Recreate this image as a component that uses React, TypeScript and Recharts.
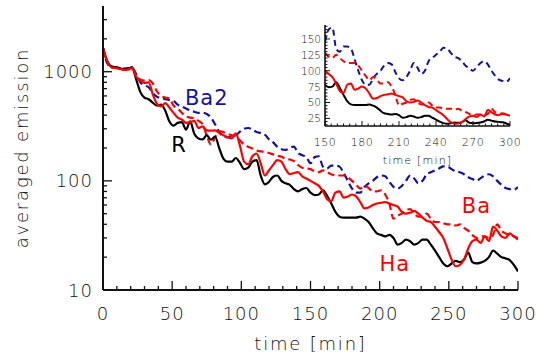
import React from 'react';
import { LineChart, Line, XAxis, YAxis, ReferenceDot, CartesianGrid } from 'recharts';

const times = [0, 3, 6, 9, 12, 15, 18, 21, 24, 27, 30, 33, 36, 39, 42, 45, 48, 51, 54, 57, 60, 63, 66, 69, 72, 75, 78, 81, 84, 87, 90, 93, 96, 99, 102, 105, 108, 111, 114, 117, 120, 123, 126, 129, 132, 135, 138, 141, 144, 147, 150, 153, 156, 159, 162, 165, 168, 171, 174, 177, 180, 183, 186, 189, 192, 195, 198, 201, 204, 207, 210, 213, 216, 219, 222, 225, 228, 231, 234, 237, 240, 243, 246, 249, 252, 255, 258, 261, 264, 267, 270, 273, 276, 279, 282, 285, 288, 291, 294, 297, 300];

const rSeries = [
  1650, 1250, 1120, 1100, 1080, 1050, 1060, 1100, 850, 650,
  580, 560, 520, 490, 500, 440, 350, 320, 340, 345,
  295, 350, 270, 245, 240, 262, 238, 255, 200, 160,
  150, 150, 162, 146, 128, 132, 150, 155, 112, 93,
  98, 109, 112, 100, 95, 92, 84, 80, 84, 86,
  78, 74, 75, 82, 73, 62, 52, 47, 46, 46,
  46, 46, 47, 45, 42, 37, 33, 32, 31, 32,
  30, 26, 27, 29, 28, 26, 27, 29, 29, 26,
  23, 20, 17.5, 16.5, 17.5, 18.5, 18, 19, 22, 18,
  17.5, 17.8, 18.5, 20, 23, 21.5, 20, 19.5, 18.8, 17,
  14.8,
];

const haSeries = [
  1650, 1250, 1100, 1080, 1060, 1040, 1050, 1080, 900, 830,
  790, 800, 620, 510, 480, 515, 470, 420, 380, 365,
  340, 345, 355, 305, 315, 290, 288, 290, 275, 262,
  252, 245, 272, 210, 150, 142, 168, 178, 145, 112,
  125, 140, 155, 150, 128, 115, 118, 120, 110, 105,
  100, 95, 90, 80, 68, 65, 78, 80, 70, 72,
  75, 72, 64, 56, 57, 60, 62, 63, 64, 62,
  60, 58, 52, 50, 51, 53, 50, 46, 43, 42,
  38, 34, 30, 24, 19, 16.5, 17, 19, 24, 28,
  29, 27, 31, 28, 38, 35, 31, 30, 33, 31,
  29,
];

const baSeries = [
  1650, 1250, 1100, 1090, 1070, 1050, 1050, 1090, 920, 850,
  830, 840, 780, 660, 600, 580, 570, 490, 460, 420,
  390, 380, 375, 355, 330, 260, 215, 250, 285, 280,
  270, 262, 255, 235, 215, 205, 198, 190, 186, 185,
  180, 175, 170, 166, 160, 157, 152, 140, 132, 130,
  128, 122, 120, 125, 120, 115, 112, 112, 112, 108,
  100, 92, 85, 90, 86, 80, 80, 82, 75, 62,
  45, 48, 50, 54, 55, 50, 47, 47, 50, 45,
  42, 42, 41, 40, 40, 39, 40, 37, 35, 32,
  30, 31, 31, 30, 32, 40, 35, 33, 32, 31,
  30,
];

const ba2Series = [
  1650, 1200, 1100, 1090, 1090, 1070, 1080, 1080, 950, 800,
  750, 720, 640, 590, 575, 560, 550, 540, 500, 480,
  460, 440, 430, 420, 420, 410, 380, 330, 280, 255,
  250, 255, 260, 282, 300, 305, 295, 280, 275, 265,
  240, 225, 205, 195, 192, 200, 206, 180, 172, 165,
  145, 165, 168, 135, 130, 138, 138, 135, 118, 100,
  85, 78, 78, 88, 95, 100, 108, 112, 110, 98,
  88, 85, 90, 100, 112, 105, 95, 100, 115, 120,
  125, 130, 136, 135, 128, 122, 120, 115, 108, 104,
  100, 106, 112, 115, 110, 100, 92, 86, 84, 83,
  88,
];

const xTicks = [0, 10, 20, 30, 40, 50, 60, 70, 80, 90, 100, 110, 120, 130, 140, 150, 160, 170, 180, 190, 200, 210, 220, 230, 240, 250, 260, 270, 280, 290, 300];
const xMajor = [0, 50, 100, 150, 200, 250, 300];
const yTicks = [10, 20, 30, 40, 50, 60, 70, 80, 90, 100, 200, 300, 400, 500, 600, 700, 800, 900, 1000, 2000, 3000];
const yMajor = [10, 100, 1000];

const insetXTicks = [150, 155, 160, 165, 170, 175, 180, 185, 190, 195, 200, 205, 210, 215, 220, 225, 230, 235, 240, 245, 250, 255, 260, 265, 270, 275, 280, 285, 290, 295, 300];
const insetXMajor = [150, 180, 210, 240, 270, 300];
const insetYTicks = [15, 20, 25, 30, 35, 40, 45, 50, 55, 60, 65, 70, 75, 80, 85, 90, 95, 100, 105, 110, 115, 120, 125, 130, 135, 140, 145, 150, 155, 160, 165, 170];
const insetYMajor = [25, 50, 75, 100, 125, 150];

const data = times.map((t, i) => ({ t, R: rSeries[i], Ha: haSeries[i], Ba: baSeries[i], Ba2: ba2Series[i] }));
const insetData = data.filter((d) => d.t >= 150);

const FONT = 'DejaVu Sans';
const INK = '#111';
const RED = '#ff0000';
const BLUE = '#1212a8';

// ticks all point inward, like the IDL box
const BottomTick = (props: any) => {
  const { x, y, payload } = props;
  const major = xMajor.includes(payload.value);
  return (
    <g>
      <line x1={x} x2={x} y1={y} y2={y - (major ? 9 : 4)} stroke={INK} strokeWidth={1.3} />
      {major && (
        <text x={x} y={y + 23} textAnchor="middle" dominantBaseline="central" fontFamily={FONT} fontSize={18} fontWeight={200} letterSpacing={1} fill={INK}>
          {payload.value}
        </text>
      )}
    </g>
  );
};

const TopTick = (props: any) => {
  const { x, y, payload } = props;
  const major = xMajor.includes(payload.value);
  return <line x1={x} x2={x} y1={y} y2={y + (major ? 9 : 4)} stroke={INK} strokeWidth={1.3} />;
};

const LeftTick = (props: any) => {
  const { x, y, payload } = props;
  const major = yMajor.includes(payload.value);
  return (
    <g>
      <line x1={x} x2={x + (major ? 9 : 4)} y1={y} y2={y} stroke={INK} strokeWidth={1.3} />
      {major && (
        <text x={x - 10} y={y} textAnchor="end" dominantBaseline="central" fontFamily={FONT} fontSize={18} fontWeight={200} letterSpacing={1} fill={INK}>
          {payload.value}
        </text>
      )}
    </g>
  );
};

const RightTick = (props: any) => {
  const { x, y, payload } = props;
  const major = yMajor.includes(payload.value);
  return <line x1={x} x2={x - (major ? 9 : 4)} y1={y} y2={y} stroke={INK} strokeWidth={1.3} />;
};

const InsetBottomTick = (props: any) => {
  const { x, y, payload } = props;
  const major = insetXMajor.includes(payload.value);
  return (
    <g>
      <line x1={x} x2={x} y1={y} y2={y - (major ? 5 : 2.5)} stroke={INK} strokeWidth={1} />
      {major && (
        <text x={x} y={y + 16} textAnchor="middle" dominantBaseline="central" fontFamily={FONT} fontSize={11} fontWeight={200} letterSpacing={0.5} fill={INK}>
          {payload.value}
        </text>
      )}
    </g>
  );
};

const InsetTopTick = (props: any) => {
  const { x, y, payload } = props;
  const major = insetXMajor.includes(payload.value);
  return <line x1={x} x2={x} y1={y} y2={y + (major ? 5 : 2.5)} stroke={INK} strokeWidth={1} />;
};

const InsetLeftTick = (props: any) => {
  const { x, y, payload } = props;
  const major = insetYMajor.includes(payload.value);
  return (
    <g>
      <line x1={x} x2={x + (major ? 5 : 2.5)} y1={y} y2={y} stroke={INK} strokeWidth={1} />
      {major && (
        <text x={x - 4} y={y} textAnchor="end" dominantBaseline="central" fontFamily={FONT} fontSize={10.5} fontWeight={200} fill={INK}>
          {payload.value}
        </text>
      )}
    </g>
  );
};

const InsetRightTick = (props: any) => {
  const { x, y, payload } = props;
  const major = insetYMajor.includes(payload.value);
  return <line x1={x} x2={x - (major ? 5 : 2.5)} y1={y} y2={y} stroke={INK} strokeWidth={1} />;
};

const YTitle = (props: any) => {
  const { viewBox } = props;
  const cx = viewBox.x + 21;
  const cy = viewBox.y + viewBox.height / 2;
  return (
    <text x={cx} y={cy} transform={`rotate(-90 ${cx} ${cy})`} textAnchor="middle" dominantBaseline="central" fontFamily={FONT} fontSize={18} fontWeight={200} letterSpacing={1.8} fill={INK}>
      averaged emission
    </text>
  );
};

const seriesLabel = (value: string, fill: string) => ({
  value,
  position: 'center' as const,
  fill,
  fontSize: 21,
  fontFamily: FONT,
  letterSpacing: 1,
});

export default function App() {
  const axisLine = { stroke: INK, strokeWidth: 2 };
  return (
    <div style={{ position: 'absolute', left: 0, top: 0, width: 536, height: 357, background: '#fff' }}>
      <LineChart width={536} height={357} data={data} margin={{ top: 6, right: 18, bottom: 0, left: 0 }}>
        <XAxis
          dataKey="t"
          type="number"
          domain={[0, 300]}
          allowDataOverflow
          ticks={xTicks}
          interval={0}
          height={67}
          tickSize={0}
          tickMargin={0}
          tickLine={false}
          axisLine={axisLine}
          tick={BottomTick}
          label={{ value: 'time [min]', position: 'insideBottom', offset: 7, fontFamily: FONT, fontSize: 18, fontWeight: 200, letterSpacing: 1.8, fill: INK }}
        />
        <XAxis xAxisId="top" orientation="top" type="number" domain={[0, 300]} allowDataOverflow ticks={xTicks} interval={0} height={0} tickSize={0} tickMargin={0} tickLine={false} axisLine={axisLine} tick={TopTick} />
        <YAxis
          scale="log"
          type="number"
          domain={[10, 4000]}
          allowDataOverflow
          ticks={yTicks}
          interval={0}
          width={103}
          tickSize={0}
          tickMargin={0}
          tickLine={false}
          axisLine={axisLine}
          tick={LeftTick}
          label={{ content: YTitle }}
        />
        <YAxis yAxisId="right" orientation="right" scale="log" type="number" domain={[10, 4000]} allowDataOverflow ticks={yTicks} interval={0} width={0} tickSize={0} tickMargin={0} tickLine={false} axisLine={axisLine} tick={RightTick} />
        <Line type="monotone" dataKey="Ba2" stroke={BLUE} strokeWidth={2.2} strokeDasharray="7 4" dot={false} isAnimationActive={false} />
        <Line type="monotone" dataKey="Ba" stroke={RED} strokeWidth={2.2} strokeDasharray="7 4" dot={false} isAnimationActive={false} />
        <Line type="monotone" dataKey="R" stroke="#000" strokeWidth={2.2} dot={false} isAnimationActive={false} />
        <Line type="monotone" dataKey="Ha" stroke={RED} strokeWidth={2.2} dot={false} isAnimationActive={false} />
        <ReferenceDot x={75} y={577} r={0} fill="none" stroke="none" label={seriesLabel('Ba2', BLUE)} />
        <ReferenceDot x={55} y={214} r={0} fill="none" stroke="none" label={seriesLabel('R', '#000')} />
        <ReferenceDot x={270} y={59} r={0} fill="none" stroke="none" label={seriesLabel('Ba', RED)} />
        <ReferenceDot x={211} y={17.5} r={0} fill="none" stroke="none" label={seriesLabel('Ha', RED)} />
      </LineChart>

      <div style={{ position: 'absolute', left: 280, top: 0 }}>
        <LineChart width={240} height={170} data={insetData} margin={{ top: 25, right: 10, bottom: 0, left: 0 }}>
          <CartesianGrid horizontal={false} vertical={false} fill="#fff" />
          <XAxis
            dataKey="t"
            type="number"
            domain={[150, 300]}
            allowDataOverflow
            ticks={insetXTicks}
            interval={0}
            height={44}
            tickSize={0}
            tickMargin={0}
            tickLine={false}
            axisLine={{ stroke: INK, strokeWidth: 1.6 }}
            tick={InsetBottomTick}
            label={{ value: 'time [min]', position: 'insideBottom', offset: 6, fontFamily: FONT, fontSize: 11, fontWeight: 200, letterSpacing: 1.2, fill: INK }}
          />
          <XAxis xAxisId="top" orientation="top" type="number" domain={[150, 300]} allowDataOverflow ticks={insetXTicks} interval={0} height={0} tickSize={0} tickMargin={0} tickLine={false} axisLine={{ stroke: INK, strokeWidth: 1.6 }} tick={InsetTopTick} />
          <YAxis type="number" domain={[13, 172]} allowDataOverflow ticks={insetYTicks} interval={0} width={45} tickSize={0} tickMargin={0} tickLine={false} axisLine={{ stroke: INK, strokeWidth: 1.6 }} tick={InsetLeftTick} />
          <YAxis yAxisId="right" orientation="right" type="number" domain={[13, 172]} allowDataOverflow ticks={insetYTicks} interval={0} width={0} tickSize={0} tickMargin={0} tickLine={false} axisLine={{ stroke: INK, strokeWidth: 1.6 }} tick={InsetRightTick} />
          <Line type="monotone" dataKey="Ba2" stroke={BLUE} strokeWidth={2} strokeDasharray="6 4" dot={false} isAnimationActive={false} />
          <Line type="monotone" dataKey="Ba" stroke={RED} strokeWidth={2} strokeDasharray="6 4" dot={false} isAnimationActive={false} />
          <Line type="monotone" dataKey="R" stroke="#000" strokeWidth={2} dot={false} isAnimationActive={false} />
          <Line type="monotone" dataKey="Ha" stroke={RED} strokeWidth={2} dot={false} isAnimationActive={false} />
        </LineChart>
      </div>
    </div>
  );
}
